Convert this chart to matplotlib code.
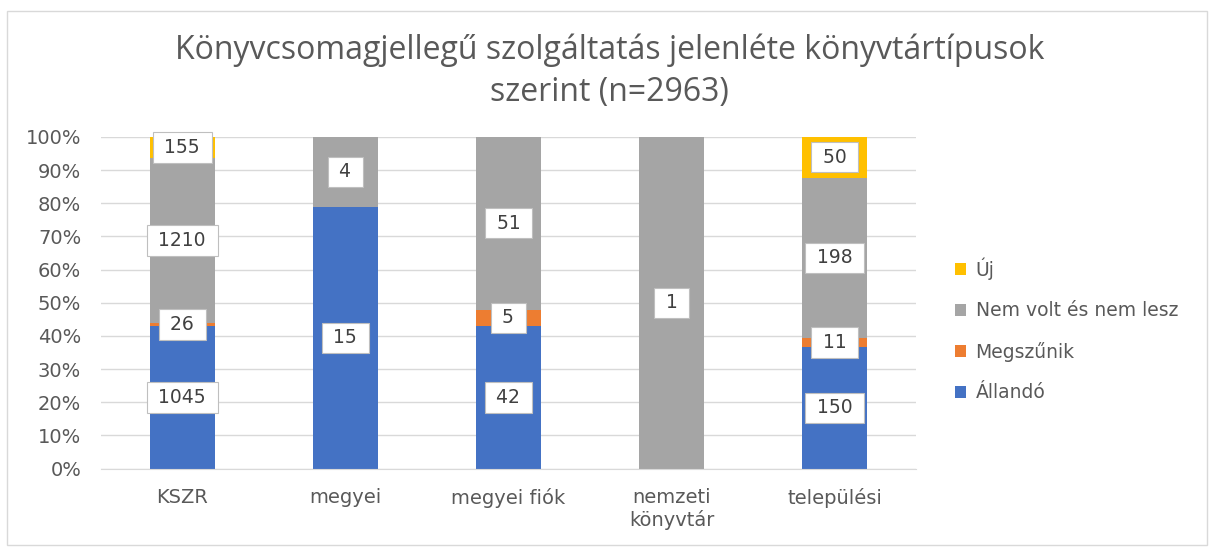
import matplotlib.pyplot as plt
from matplotlib.patches import Rectangle
import numpy as np

plt.rcParams['font.family'] = ['DejaVu Sans']

categories = ['KSZR', 'megyei', 'megyei fiók', 'nemzeti\nkönyvtár', 'települési']
series = ['Állandó', 'Megszűnik', 'Nem volt és nem lesz', 'Új']
allando = [1045, 15, 42, 0, 150]
megszunik = [26, 0, 5, 0, 11]
nem_volt = [1210, 4, 51, 1, 198]
uj = [155, 0, 0, 0, 50]
colors = ['#4472C4', '#ED7D31', '#A5A5A5', '#FFC000']

values = np.array([allando, megszunik, nem_volt, uj], dtype=float)
totals = values.sum(axis=0)
shares = values / totals * 100

fig = plt.figure(figsize=(12.12, 5.48), dpi=100)
ax = fig.add_axes([0.083, 0.145, 0.673, 0.605])

x = np.arange(len(categories))
bottom = np.zeros(len(categories))
for i, name in enumerate(series):
    ax.bar(x, shares[i], 0.4, bottom=bottom, color=colors[i], label=name, zorder=2)
    for j in range(len(categories)):
        if values[i, j] > 0:
            ax.text(x[j], bottom[j] + shares[i, j] / 2, f' {int(values[i, j])} ',
                    ha='center', va='center', fontsize=13.5, color='#404040', zorder=4,
                    bbox=dict(boxstyle='square,pad=0.3', fc='white', ec='#BFBFBF', lw=0.8))
    bottom += shares[i]

ax.set_xlim(-0.5, len(categories) - 0.5)
ax.set_ylim(0, 100)
ax.set_yticks(np.arange(0, 101, 10))
ax.set_yticklabels([f'{v}%' for v in range(0, 101, 10)])
ax.set_xticks(x)
ax.set_xticklabels(categories)
ax.tick_params(axis='both', length=0, labelsize=14, colors='#595959')
ax.tick_params(axis='y', pad=14)
ax.tick_params(axis='x', pad=14)
ax.grid(axis='y', color='#D9D9D9', lw=1, zorder=0)
for s in ['top', 'right', 'left']:
    ax.spines[s].set_visible(False)
ax.spines['bottom'].set_color('#D9D9D9')

handles, labels = ax.get_legend_handles_labels()
fig.legend(handles[::-1], labels[::-1], loc='center left', bbox_to_anchor=(0.774, 0.398),
           frameon=False, fontsize=13.5, labelcolor='#595959', handlelength=0.6,
           handleheight=0.6, labelspacing=1.15, handletextpad=0.5)

fig.text(0.503, 0.909, 'Könyvcsomagjellegű szolgáltatás jelenléte könyvtártípusok',
         ha='center', va='center', fontsize=23, color='#595959', family='Open Sans')
fig.text(0.503, 0.832, 'szerint (n=2963)', ha='center', va='center', fontsize=23,
         color='#595959', family='Open Sans')

fig.patches.append(Rectangle((0.006, 0.005), 0.99, 0.975, transform=fig.transFigure,
                             fill=False, ec='#D9D9D9', lw=1))

fig.savefig('out.png', dpi=100)
